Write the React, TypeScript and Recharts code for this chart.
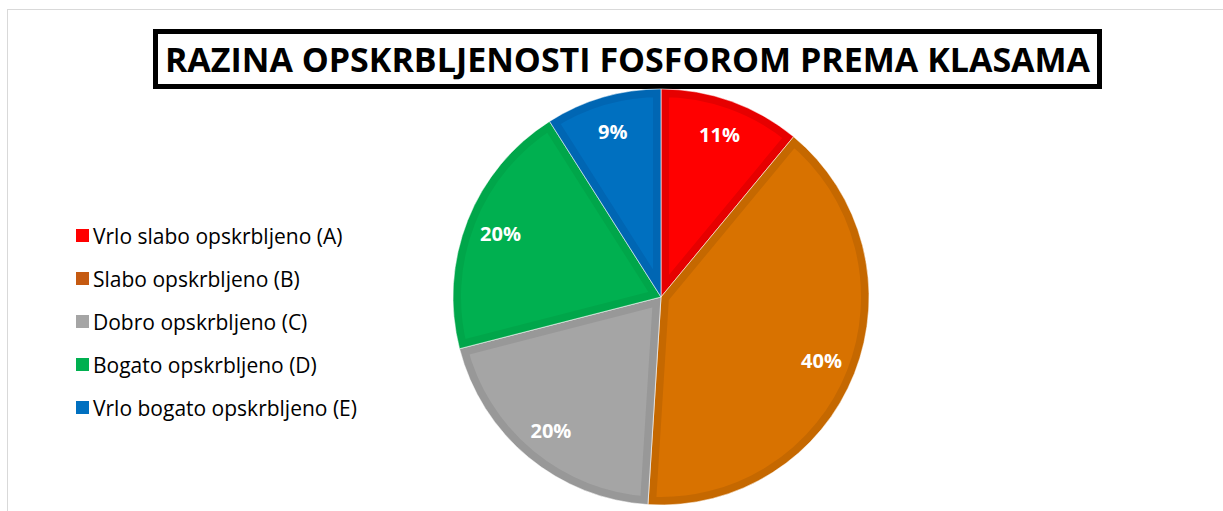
import React from "react";
import { PieChart, Pie, Cell, Legend, Sector } from "recharts";

const categories = [
  "Vrlo slabo opskrbljeno (A)",
  "Slabo opskrbljeno (B)",
  "Dobro opskrbljeno (C)",
  "Bogato opskrbljeno (D)",
  "Vrlo bogato opskrbljeno (E)",
];
const shares = [11, 40, 20, 20, 9];
const fillColors = ["#FF0000", "#D87200", "#A5A5A5", "#00B050", "#0070C0"];
const borderColors = ["#E60000", "#C56800", "#989898", "#00A64A", "#0066B3"];
const legendColors = ["#FF0000", "#C55A11", "#A5A5A5", "#00B050", "#0070C0"];
const title = "RAZINA OPSKRBLJENOSTI FOSFOROM PREMA KLASAMA";

const data = categories.map((name, i) => ({ name, value: shares[i] }));

const RADIAN = Math.PI / 180;

const renderLabel = (props: any) => {
  const { cx, cy, midAngle, outerRadius, percent } = props;
  const r = outerRadius * 0.83;
  const x = cx + r * Math.cos(-midAngle * RADIAN);
  const y = cy + r * Math.sin(-midAngle * RADIAN);
  return (
    <text
      x={x}
      y={y}
      fill="#fff"
      textAnchor="middle"
      dominantBaseline="central"
      fontFamily="'Open Sans', sans-serif"
      fontWeight={700}
      fontSize={20}
    >
      {`${Math.round(percent * 100)}%`}
    </text>
  );
};

const renderShape = (props: any) => {
  const idx = categories.indexOf(props.name ?? props.payload?.name);
  const id = `clip-slice-${idx}`;
  return (
    <g>
      <defs>
        <clipPath id={id}>
          <Sector
            cx={props.cx}
            cy={props.cy}
            innerRadius={0}
            outerRadius={props.outerRadius}
            startAngle={props.startAngle}
            endAngle={props.endAngle}
          />
        </clipPath>
      </defs>
      <Sector
        cx={props.cx}
        cy={props.cy}
        innerRadius={0}
        outerRadius={props.outerRadius}
        startAngle={props.startAngle}
        endAngle={props.endAngle}
        fill={fillColors[idx]}
        stroke={borderColors[idx]}
        strokeWidth={16}
        clipPath={`url(#${id})`}
      />
      <Sector
        cx={props.cx}
        cy={props.cy}
        innerRadius={0}
        outerRadius={props.outerRadius}
        startAngle={props.startAngle}
        endAngle={props.endAngle}
        fill="none"
        stroke="#ffffff"
        strokeOpacity={0.6}
        strokeWidth={1}
      />
    </g>
  );
};

const renderLegend = () => (
  <div style={{ fontFamily: "'Open Sans', sans-serif", fontSize: 21, color: "#000" }}>
    {categories.map((c, i) => (
      <div key={c} style={{ display: "flex", alignItems: "center", height: 43, whiteSpace: "nowrap" }}>
        <span
          style={{
            display: "inline-block",
            width: 13,
            height: 13,
            background: legendColors[i],
            marginRight: 4,
          }}
        />
        <span>{c}</span>
      </div>
    ))}
  </div>
);

export default function App() {
  return (
    <div
      style={{
        position: "fixed",
        left: 0,
        top: 0,
        width: 1223,
        height: 511,
        overflow: "hidden",
        background: "#fff",
      }}
    >
      <div
        style={{
          position: "absolute",
          left: 7,
          top: 9,
          width: 1300,
          height: 600,
          border: "1px solid #d9d9d9",
        }}
      />
      <div
        style={{
          position: "absolute",
          left: 153,
          top: 29,
          width: 939,
          height: 50,
          border: "5px solid #000",
          display: "flex",
          alignItems: "center",
          justifyContent: "center",
          fontFamily: "'Open Sans', sans-serif",
          fontWeight: 700,
          fontSize: 34,
          color: "#000",
          whiteSpace: "nowrap",
          background: "#fff",
        }}
      >
        {title}
      </div>
      <div style={{ position: "absolute", left: 0, top: 0 }}>
        <PieChart width={1223} height={511} margin={{ top: 0, right: 0, bottom: 0, left: 0 }}>
          <Pie
            data={data}
            dataKey="value"
            nameKey="name"
            cx={661}
            cy={297}
            outerRadius={208}
            startAngle={90}
            endAngle={-270}
            isAnimationActive={false}
            label={renderLabel}
            labelLine={false}
            shape={renderShape}
            stroke="none"
          >
            {data.map((d, i) => (
              <Cell key={d.name} fill={fillColors[i]} />
            ))}
          </Pie>
          <Legend
            layout="vertical"
            align="center"
            verticalAlign="middle"
            content={renderLegend}
            wrapperStyle={{ left: 76, top: 214, width: 360 }}
          />
        </PieChart>
      </div>
    </div>
  );
}
